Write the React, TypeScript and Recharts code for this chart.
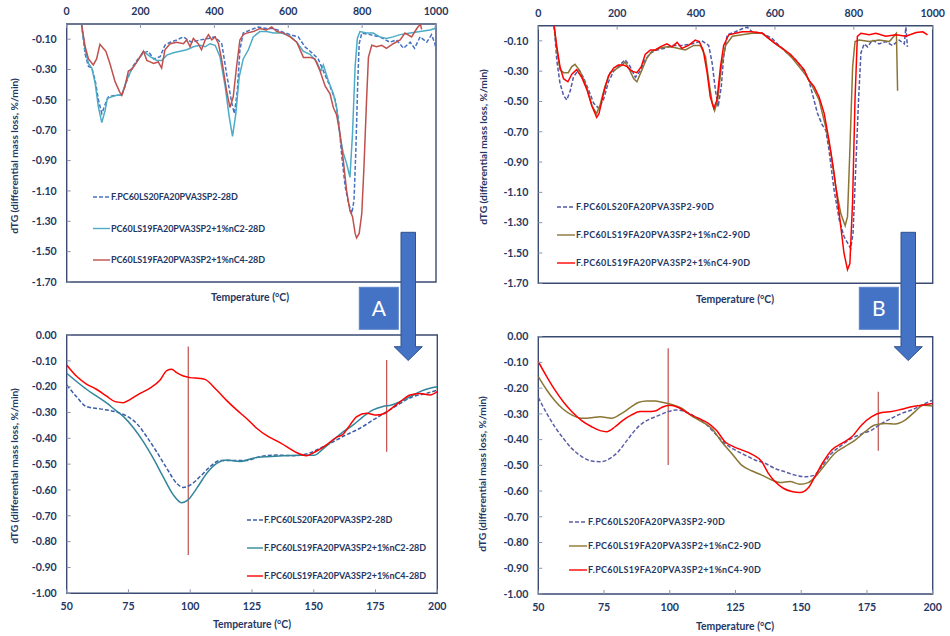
import React from "react";
import {
  Legend,
  Line,
  LineChart,
  ReferenceArea,
  ReferenceLine,
  XAxis,
  YAxis,
} from "recharts";

type Pt = [number, number];
type Marker = [number, number, number];

// ---- axes ----
const fullTicks = [0, 200, 400, 600, 800, 1000];
const fullYTicks = [-1.7, -1.5, -1.3, -1.1, -0.9, -0.7, -0.5, -0.3, -0.1];
const zoomTicks = [50, 75, 100, 125, 150, 175, 200];
const zoomYTicks = [0, -0.1, -0.2, -0.3, -0.4, -0.5, -0.6, -0.7, -0.8, -0.9, -1.0];

// ---- legend labels ----
const names28 = [
  "F.PC60LS20FA20PVA3SP2-28D",
  "PC60LS19FA20PVA3SP2+1%nC2-28D",
  "PC60LS19FA20PVA3SP2+1%nC4-28D",
];
const names90 = [
  "F.PC60LS20FA20PVA3SP2-90D",
  "F.PC60LS19FA20PVA3SP2+1%nC2-90D",
  "F.PC60LS19FA20PVA3SP2+1%nC4-90D",
];
const names28z = [
  "F.PC60LS20FA20PVA3SP2-28D",
  "F.PC60LS19FA20PVA3SP2+1%nC2-28D",
  "F.PC60LS19FA20PVA3SP2+1%nC4-28D",
];

// ---- 28 days, 0-1000 C ----
const ref28: Pt[] = [
  [40, 0], [50, -0.2], [59, -0.28], [68, -0.29], [77, -0.37], [86, -0.5], [95, -0.59],
  [104, -0.53], [113, -0.48], [131, -0.47], [149, -0.47], [162, -0.38], [176, -0.29],
  [190, -0.24], [208, -0.19], [221, -0.18], [235, -0.23], [253, -0.215], [266, -0.14],
  [280, -0.12], [298, -0.105], [316, -0.085], [338, -0.12], [361, -0.105], [384, -0.095],
  [402, -0.085], [420, -0.13], [433, -0.33], [447, -0.52], [454, -0.59], [462, -0.44],
  [469, -0.17], [478, -0.06], [496, -0.04], [519, -0.02], [541, -0.03], [560, -0.03],
  [582, -0.05], [605, -0.07], [627, -0.085], [645, -0.15], [664, -0.19], [681, -0.23],
  [695, -0.31], [713, -0.41], [727, -0.5], [736, -0.63], [745, -0.875], [754, -1.07],
  [763, -1.18], [772, -1.25], [778, -1.16], [783, -0.83], [788, -0.39], [792, -0.13],
  [799, -0.06], [821, -0.07], [848, -0.085], [875, -0.12], [893, -0.105], [912, -0.16],
  [930, -0.12], [942, -0.16], [957, -0.085], [975, -0.12], [988, -0.07], [997, -0.13],
  [1000, -0.17],
];
const nc2_28: Pt[] = [
  [40, 0], [50, -0.17], [59, -0.26], [68, -0.29], [77, -0.39], [86, -0.55], [95, -0.65],
  [104, -0.57], [110, -0.49], [122, -0.48], [135, -0.47], [149, -0.47], [162, -0.37],
  [176, -0.3], [190, -0.25], [208, -0.18], [226, -0.215], [244, -0.24], [257, -0.24],
  [271, -0.205], [289, -0.19], [307, -0.18], [325, -0.17], [343, -0.15], [361, -0.14],
  [375, -0.15], [388, -0.13], [402, -0.14], [415, -0.215], [429, -0.41], [440, -0.61],
  [449, -0.74], [458, -0.59], [467, -0.35], [478, -0.23], [492, -0.17], [505, -0.085],
  [523, -0.05], [541, -0.05], [560, -0.06], [582, -0.06], [605, -0.08], [623, -0.12],
  [641, -0.18], [659, -0.2], [677, -0.25], [688, -0.31], [695, -0.27], [708, -0.37],
  [722, -0.46], [731, -0.55], [740, -0.74], [749, -0.85], [758, -0.92], [767, -1.01],
  [774, -0.72], [781, -0.28], [787, -0.095], [794, -0.05], [812, -0.06], [830, -0.06],
  [848, -0.085], [866, -0.095], [884, -0.085], [903, -0.07], [930, -0.06], [957, -0.05],
  [984, -0.04], [997, -0.03], [1000, 0],
];
const nc4_28: Pt[] = [
  [40, 0], [50, -0.15], [59, -0.23], [72, -0.27], [81, -0.23], [90, -0.134], [99, -0.16],
  [106, -0.18], [117, -0.26], [131, -0.38], [144, -0.45], [149, -0.47], [158, -0.41],
  [167, -0.31], [176, -0.3], [190, -0.25], [208, -0.18], [217, -0.24], [226, -0.25],
  [235, -0.26], [248, -0.25], [257, -0.29], [266, -0.17], [280, -0.13], [298, -0.12],
  [316, -0.13], [325, -0.105], [334, -0.15], [343, -0.095], [356, -0.13], [365, -0.17],
  [375, -0.105], [384, -0.07], [393, -0.105], [402, -0.085], [411, -0.13], [420, -0.24],
  [433, -0.44], [442, -0.55], [451, -0.48], [460, -0.28], [469, -0.105], [478, -0.07],
  [487, -0.06], [505, -0.05], [523, -0.03], [541, -0.04], [555, -0.02], [569, -0.05],
  [587, -0.06], [605, -0.085], [623, -0.12], [641, -0.22], [659, -0.22], [672, -0.23],
  [686, -0.31], [700, -0.41], [713, -0.46], [722, -0.55], [731, -0.6], [740, -0.72],
  [749, -0.9], [758, -1.1], [767, -1.23], [774, -1.27], [781, -1.38], [785, -1.41],
  [792, -1.38], [799, -1.25], [805, -0.94], [812, -0.5], [817, -0.22], [826, -0.14],
  [839, -0.15], [853, -0.14], [866, -0.16], [884, -0.13], [903, -0.105], [916, -0.06],
  [934, -0.085], [948, -0.03], [958, 0], [961, -0.035],
];

// ---- 90 days, 0-1000 C ----
const ref90: Pt[] = [
  [40, 0], [47, -0.23], [55, -0.38], [64, -0.46], [72, -0.49], [81, -0.43], [89, -0.34],
  [102, -0.29], [114, -0.34], [127, -0.42], [140, -0.51], [153, -0.545], [165, -0.49],
  [178, -0.37], [191, -0.3], [203, -0.27], [220, -0.225], [233, -0.27], [246, -0.34],
  [258, -0.3], [271, -0.225], [284, -0.18], [301, -0.16], [318, -0.15], [339, -0.13],
  [364, -0.13], [390, -0.12], [415, -0.1], [432, -0.13], [441, -0.25], [449, -0.425],
  [456, -0.535], [464, -0.4], [470, -0.205], [479, -0.06], [500, -0.04], [517, -0.02],
  [530, -0.01], [542, -0.04], [568, -0.05], [593, -0.085], [610, -0.13], [631, -0.18],
  [653, -0.225], [669, -0.28], [686, -0.36], [697, -0.47], [708, -0.58], [720, -0.655],
  [729, -0.69], [737, -0.82], [750, -1.085], [763, -1.28], [775, -1.39], [792, -1.47],
  [798, -1.37], [805, -0.93], [812, -0.49], [818, -0.18], [826, -0.12], [835, -0.14],
  [847, -0.095], [864, -0.12], [881, -0.105], [898, -0.13], [915, -0.095], [928, -0.12],
  [932, -0.01], [936, -0.14],
];
const nc2_90: Pt[] = [
  [40, 0], [47, -0.16], [55, -0.29], [64, -0.31], [76, -0.31], [85, -0.27], [93, -0.255],
  [106, -0.3], [123, -0.41], [136, -0.53], [148, -0.58], [157, -0.52], [169, -0.4],
  [182, -0.31], [195, -0.29], [212, -0.26], [220, -0.24], [231, -0.29], [242, -0.35],
  [250, -0.37], [263, -0.29], [275, -0.215], [288, -0.17], [305, -0.15], [322, -0.14],
  [339, -0.14], [356, -0.15], [373, -0.16], [394, -0.13], [411, -0.13], [424, -0.205],
  [432, -0.36], [441, -0.51], [447, -0.56], [455, -0.49], [464, -0.27], [475, -0.13],
  [492, -0.07], [517, -0.06], [542, -0.05], [568, -0.05], [585, -0.085], [602, -0.12],
  [623, -0.16], [644, -0.215], [661, -0.27], [678, -0.325], [695, -0.4], [712, -0.49],
  [729, -0.67], [742, -0.84], [754, -1.06], [767, -1.24], [778, -1.32], [784, -1.26],
  [790, -0.82], [797, -0.27], [803, -0.105], [814, -0.095], [839, -0.105], [864, -0.095],
  [890, -0.105], [908, -0.05], [911, -0.43],
];
const nc4_90: Pt[] = [
  [40, 0], [47, -0.14], [55, -0.27], [64, -0.35], [75, -0.37], [85, -0.32], [97, -0.29],
  [110, -0.34], [123, -0.42], [136, -0.53], [148, -0.605], [154, -0.58], [165, -0.45],
  [178, -0.33], [191, -0.28], [203, -0.26], [216, -0.26], [225, -0.27], [237, -0.3],
  [250, -0.31], [261, -0.27], [271, -0.19], [284, -0.16], [297, -0.16], [309, -0.14],
  [326, -0.12], [339, -0.14], [352, -0.11], [364, -0.15], [381, -0.13], [398, -0.095],
  [408, -0.105], [418, -0.16], [428, -0.31], [436, -0.47], [445, -0.545], [453, -0.49],
  [462, -0.27], [470, -0.13], [483, -0.06], [500, -0.05], [517, -0.04], [542, -0.04],
  [568, -0.05], [585, -0.085], [602, -0.12], [619, -0.15], [640, -0.19], [657, -0.24],
  [674, -0.29], [686, -0.36], [699, -0.4], [712, -0.47], [725, -0.58], [737, -0.755],
  [750, -0.975], [763, -1.24], [775, -1.5], [784, -1.61], [790, -1.57], [797, -1.15],
  [803, -0.49], [809, -0.07], [818, -0.05], [839, -0.06], [856, -0.05], [881, -0.07],
  [907, -0.06], [932, -0.07], [958, -0.045], [975, -0.04], [987, -0.06],
];

// ---- 28 days, 50-200 C ----
const ref28z: Pt[] = [
  [50, -0.194], [54, -0.239], [58, -0.277], [63.5, -0.286], [69.6, -0.297], [74.3, -0.314],
  [78.3, -0.342], [82.4, -0.394], [86.4, -0.452], [90.5, -0.516], [94.5, -0.574],
  [97.2, -0.59], [100.6, -0.577], [104, -0.548], [108, -0.51], [112, -0.486],
  [117.4, -0.486], [122.8, -0.486], [128, -0.471], [135, -0.465], [141.7, -0.467],
  [147, -0.461], [152.5, -0.439], [158, -0.413], [163, -0.387], [168.7, -0.361],
  [174, -0.329], [179.5, -0.297], [185, -0.265], [190, -0.239], [195.7, -0.226],
  [200, -0.213],
];
const nc2_28z: Pt[] = [
  [50, -0.148], [54, -0.18], [58, -0.21], [62, -0.236], [66, -0.262], [69.6, -0.29],
  [73, -0.316], [77, -0.359], [81, -0.413], [85, -0.477], [89, -0.548], [93, -0.617],
  [96.5, -0.649], [99, -0.639], [102.6, -0.594], [106.7, -0.535], [110.7, -0.497],
  [114.8, -0.484], [120, -0.49], [125.5, -0.477], [131, -0.471], [137.7, -0.467],
  [144.4, -0.466], [150, -0.466], [154, -0.439], [158, -0.406], [162, -0.374],
  [166, -0.348], [170, -0.316], [174, -0.29], [178, -0.277], [181.5, -0.271],
  [185, -0.258], [189, -0.239], [193, -0.219], [197, -0.206], [200, -0.2],
];
const nc4_28z: Pt[] = [
  [50, -0.116], [54, -0.16], [58, -0.19], [62, -0.21], [66, -0.236], [69.6, -0.258],
  [73, -0.262], [75.6, -0.25], [79.7, -0.226], [83.7, -0.206], [87.8, -0.174],
  [90.5, -0.138], [92.5, -0.133], [94.5, -0.146], [97.2, -0.159], [99.9, -0.165],
  [104, -0.168], [106, -0.172], [110.7, -0.213], [114.8, -0.254], [118.8, -0.29],
  [122.8, -0.323], [126.9, -0.361], [131, -0.39], [135, -0.41], [139, -0.432],
  [143, -0.455], [147, -0.467], [151, -0.45], [155, -0.426], [159, -0.397],
  [162, -0.383], [164.7, -0.348], [167.4, -0.316], [171.4, -0.303], [175.5, -0.31],
  [178.8, -0.303], [181.5, -0.284], [185, -0.258], [189, -0.232], [193, -0.226],
  [197, -0.232], [200, -0.219],
];

// ---- 90 days, 50-200 C ----
const ref90z: Pt[] = [
  [50, -0.236], [53.2, -0.298], [56.3, -0.35], [59.5, -0.395], [62.7, -0.434],
  [66.5, -0.466], [70.3, -0.483], [73.5, -0.486], [77.3, -0.473], [80.4, -0.447],
  [83.6, -0.405], [86.8, -0.363], [89.9, -0.334], [93.1, -0.317], [96.3, -0.304],
  [99.4, -0.291], [102.6, -0.285], [105.8, -0.291], [109.6, -0.311], [113.4, -0.337],
  [117.2, -0.376], [121, -0.415], [124.8, -0.44], [128.6, -0.46], [132.4, -0.479],
  [136.2, -0.492], [140, -0.512], [143.8, -0.525], [147.6, -0.538], [151.4, -0.544],
  [154.6, -0.54], [157.8, -0.505], [160.9, -0.46], [164.7, -0.427], [169.2, -0.395],
  [173, -0.378], [176.8, -0.363], [180.6, -0.337], [184.4, -0.317], [188.2, -0.298],
  [192, -0.285], [195.8, -0.266], [200, -0.246],
];
const nc2_90z: Pt[] = [
  [50, -0.155], [53.2, -0.207], [56.3, -0.249], [59.5, -0.282], [62.7, -0.304],
  [66.5, -0.317], [70.3, -0.315], [73.5, -0.311], [77.9, -0.317], [81.7, -0.298],
  [84.9, -0.276], [88, -0.256], [91.2, -0.25], [94.4, -0.25], [97.5, -0.256],
  [100.7, -0.263], [104.5, -0.278], [108.3, -0.308], [112.1, -0.33], [115.9, -0.356],
  [119.7, -0.408], [123.5, -0.453], [127.3, -0.499], [131.1, -0.521], [135, -0.538],
  [138.8, -0.557], [142, -0.567], [145.7, -0.563], [149.5, -0.573], [152.7, -0.567],
  [155.9, -0.538], [159, -0.499], [162.8, -0.453], [166.6, -0.427], [170.5, -0.402],
  [174.3, -0.369], [178, -0.343], [181.9, -0.337], [185.7, -0.339], [189.5, -0.324],
  [193.3, -0.291], [196.4, -0.266], [200, -0.269],
];
const nc4_90z: Pt[] = [
  [50, -0.097], [53.2, -0.155], [56.3, -0.207], [59.5, -0.253], [62.7, -0.291],
  [66.5, -0.326], [70.3, -0.35], [73.5, -0.365], [76, -0.369], [79.2, -0.35],
  [82.3, -0.324], [85.5, -0.304], [88.7, -0.291], [91.8, -0.291], [94.4, -0.289],
  [96.9, -0.275], [100, -0.266], [103.3, -0.275], [107, -0.298], [110.9, -0.317],
  [114.7, -0.337], [117.8, -0.365], [121, -0.408], [124.2, -0.427], [127.3, -0.44],
  [131.1, -0.456], [135, -0.486], [137.5, -0.531], [140, -0.563], [143.2, -0.589],
  [146.4, -0.602], [149.5, -0.606], [152.7, -0.587], [155.2, -0.544], [158.4, -0.486],
  [161.6, -0.44], [165.4, -0.415], [169.2, -0.389], [173, -0.343], [176.8, -0.311],
  [180.6, -0.295], [184.4, -0.291], [188.2, -0.282], [192, -0.272], [195.8, -0.266],
  [200, -0.259],
];

// vertical marker lines: [temperature, y from, y to]
const markers28: Marker[] = [[99.2, -0.045, -0.852], [179.5, -0.097, -0.452]];
const markers90: Marker[] = [[99.4, -0.045, -0.499], [179.3, -0.214, -0.443]];

const FONT = "Lato, 'Open Sans', sans-serif";
const INK = "#1F3864";
const FRAME = "#3A4A70";
const TICK = "#8A95AD";
const MARK = "#C0504D";

interface Series {
  name: string;
  pts: Pt[];
  color: string;
  dash?: string;
}

interface LegendBox {
  left: number;
  top: number;
  gap: number;
  line: number;
  spacing: number;
}

interface PanelProps {
  left: number;
  top: number;
  width: number;
  height: number;
  plot: { left: number; top: number; right: number; bottom: number };
  xDomain: [number, number];
  xTicks: number[];
  xTop: boolean;
  yDomain: [number, number];
  yTicks: number[];
  curve: "linear" | "monotone";
  series: Series[];
  markers?: Marker[];
  legend: LegendBox;
}

const toRows = (pts: Pt[]) => pts.map(([t, v]) => ({ t, v }));

const tickStyle = { fill: INK, fontSize: 10.6, fontWeight: 700, fontFamily: FONT };

function SeriesLegend({ series, box }: { series: Series[]; box: LegendBox }) {
  const h = box.gap * (series.length - 1) + 14;
  return (
    <svg width={230} height={h} style={{ display: "block", overflow: "visible" }}>
      {series.map((s, i) => {
        const y = 7 + i * box.gap;
        return (
          <g key={s.name}>
            <line
              x1={0}
              x2={box.line}
              y1={y}
              y2={y}
              stroke={s.color}
              strokeWidth={1.4}
              strokeDasharray={s.dash}
            />
            <text
              x={box.line + 1}
              y={y + 3.3}
              fill={INK}
              fontSize={9}
              fontWeight={700}
              fontFamily={FONT}
              letterSpacing={box.spacing}
            >
              {s.name}
            </text>
          </g>
        );
      })}
    </svg>
  );
}

function Panel(p: PanelProps) {
  const margin = { top: 0, left: 0, right: p.width - p.plot.right, bottom: 0 };
  const xHeight = p.xTop ? p.plot.top : p.height - p.plot.bottom;
  if (p.xTop) margin.bottom = p.height - p.plot.bottom;
  else margin.top = p.plot.top;
  return (
    <div style={{ position: "absolute", left: p.left, top: p.top }}>
      <LineChart width={p.width} height={p.height} margin={margin}>
        <XAxis
          xAxisId={0}
          type="number"
          dataKey="t"
          domain={p.xDomain}
          ticks={p.xTicks}
          interval={0}
          allowDataOverflow
          orientation={p.xTop ? "top" : "bottom"}
          height={xHeight}
          axisLine={false}
          tickLine={{ stroke: TICK }}
          tickSize={-4}
          tickMargin={13}
          tick={tickStyle}
        />
        <YAxis
          yAxisId={0}
          type="number"
          domain={p.yDomain}
          ticks={p.yTicks}
          interval={0}
          allowDataOverflow
          width={p.plot.left}
          axisLine={false}
          tickLine={{ stroke: TICK }}
          tickSize={-4}
          tickMargin={14}
          tickFormatter={(v: number) => v.toFixed(2)}
          tick={tickStyle}
        />
        <ReferenceArea
          x1={p.xDomain[0]}
          x2={p.xDomain[1]}
          y1={p.yDomain[0]}
          y2={p.yDomain[1]}
          fill="none"
          fillOpacity={0}
          stroke={FRAME}
          strokeWidth={1.4}
        />
        {(p.markers || []).map(([t, y1, y2]) => (
          <ReferenceLine
            key={t}
            segment={[
              { x: t, y: y1 },
              { x: t, y: y2 },
            ]}
            stroke={MARK}
            strokeWidth={1.2}
          />
        ))}
        {p.series.map((s) => (
          <Line
            key={s.name}
            name={s.name}
            data={toRows(s.pts)}
            dataKey="v"
            type={p.curve}
            stroke={s.color}
            strokeWidth={1.5}
            strokeDasharray={s.dash}
            dot={false}
            activeDot={false}
            isAnimationActive={false}
          />
        ))}
        <Legend
          layout="vertical"
          align="center"
          verticalAlign="middle"
          wrapperStyle={{ left: p.legend.left, top: p.legend.top, width: 230 }}
          content={() => <SeriesLegend series={p.series} box={p.legend} />}
        />
      </LineChart>
    </div>
  );
}

function Arrow({ x, label }: { x: number; label: string }) {
  // x = left edge of the shaft
  return (
    <g>
      <rect x={x - 41.7} y={287.3} width={39} height={42} fill="#4472C4" stroke="#5A82C8" />
      <text
        x={x - 22.2}
        y={316}
        textAnchor="middle"
        fill="#fff"
        fontSize={21}
        fontFamily={FONT}
      >
        {label}
      </text>
      <path
        d={`M${x} 232.3 H${x + 14.5} V346.7 H${x + 21.3} L${x + 7.2} 360.5 L${x - 6.8} 346.7 H${x} Z`}
        fill="#4472C4"
        stroke="#2F528F"
        strokeWidth={1}
      />
    </g>
  );
}

function Title({ x, y, text, rotate }: { x: number; y: number; text: string; rotate?: boolean }) {
  return (
    <text
      x={x}
      y={y}
      textAnchor="middle"
      dominantBaseline="central"
      fill={INK}
      fontSize={rotate ? 10.2 : 10.4}
      fontWeight={700}
      fontFamily={FONT}
      transform={rotate ? `rotate(-90 ${x} ${y})` : undefined}
    >
      {text}
    </text>
  );
}

export default function App() {
  const yTitle = "dTG (differential  mass loss, %/min)";
  const xTitle = "Temperature (\u00B0C)";
  return (
    <div
      style={{
        position: "absolute",
        left: 0,
        top: 0,
        width: 950,
        height: 636,
        background: "#fff",
        overflow: "hidden",
      }}
    >
      <Panel
        left={0}
        top={0}
        width={475}
        height={300}
        plot={{ left: 66.7, top: 24, right: 436, bottom: 282 }}
        xDomain={[0, 1000]}
        xTicks={fullTicks}
        xTop
        yDomain={[-1.7, 0]}
        yTicks={fullYTicks}
        curve="linear"
        series={[
          { name: names28[0], pts: ref28, color: "#4472C4", dash: "4 2" },
          { name: names28[1], pts: nc2_28, color: "#4BACC6" },
          { name: names28[2], pts: nc4_28, color: "#C0504D" },
        ]}
        legend={{ left: 93, top: 190, gap: 31.5, line: 17, spacing: -0.08 }}
      />
      <Panel
        left={475}
        top={0}
        width={475}
        height={300}
        plot={{ left: 63.3, top: 25.7, right: 457.7, bottom: 283.3 }}
        xDomain={[0, 1000]}
        xTicks={fullTicks}
        xTop
        yDomain={[-1.7, 0]}
        yTicks={fullYTicks}
        curve="linear"
        series={[
          { name: names90[0], pts: ref90, color: "#4F5AA8", dash: "4 2" },
          { name: names90[1], pts: nc2_90, color: "#8B7535" },
          { name: names90[2], pts: nc4_90, color: "#FF0000" },
        ]}
        legend={{ left: 82, top: 200, gap: 28, line: 18, spacing: 0.38 }}
      />
      <Panel
        left={0}
        top={310}
        width={475}
        height={326}
        plot={{ left: 66.7, top: 25, right: 437.3, bottom: 283.3 }}
        xDomain={[50, 200]}
        xTicks={zoomTicks}
        xTop={false}
        yDomain={[-1, 0]}
        yTicks={zoomYTicks}
        curve="monotone"
        series={[
          { name: names28z[0], pts: ref28z, color: "#3B5EA8", dash: "4 2" },
          { name: names28z[1], pts: nc2_28z, color: "#31869B" },
          { name: names28z[2], pts: nc4_28z, color: "#FF0000" },
        ]}
        markers={markers28}
        legend={{ left: 247, top: 203, gap: 28, line: 16, spacing: -0.02 }}
      />
      <Panel
        left={475}
        top={310}
        width={475}
        height={326}
        plot={{ left: 63.3, top: 26.7, right: 457.7, bottom: 284 }}
        xDomain={[50, 200]}
        xTicks={zoomTicks}
        xTop={false}
        yDomain={[-1, 0]}
        yTicks={zoomYTicks}
        curve="monotone"
        series={[
          { name: names90[0], pts: ref90z, color: "#5B5EA6", dash: "4 2" },
          { name: names90[1], pts: nc2_90z, color: "#8B7535" },
          { name: names90[2], pts: nc4_90z, color: "#FF0000" },
        ]}
        markers={markers90}
        legend={{ left: 94, top: 205, gap: 24, line: 18, spacing: 0.34 }}
      />
      <svg
        width={950}
        height={636}
        style={{ position: "absolute", left: 0, top: 0, pointerEvents: "none" }}
      >
        <Title x={250} y={297} text={xTitle} />
        <Title x={735} y={299} text={xTitle} />
        <Title x={252} y={624} text={xTitle} />
        <Title x={735} y={626} text={xTitle} />
        <Title x={14} y={156} text={yTitle} rotate />
        <Title x={483} y={147} text={yTitle} rotate />
        <Title x={14} y={466} text={yTitle} rotate />
        <Title x={482} y={474} text={yTitle} rotate />
        <Arrow x={401} label="A" />
        <Arrow x={901} label="B" />
      </svg>
    </div>
  );
}
